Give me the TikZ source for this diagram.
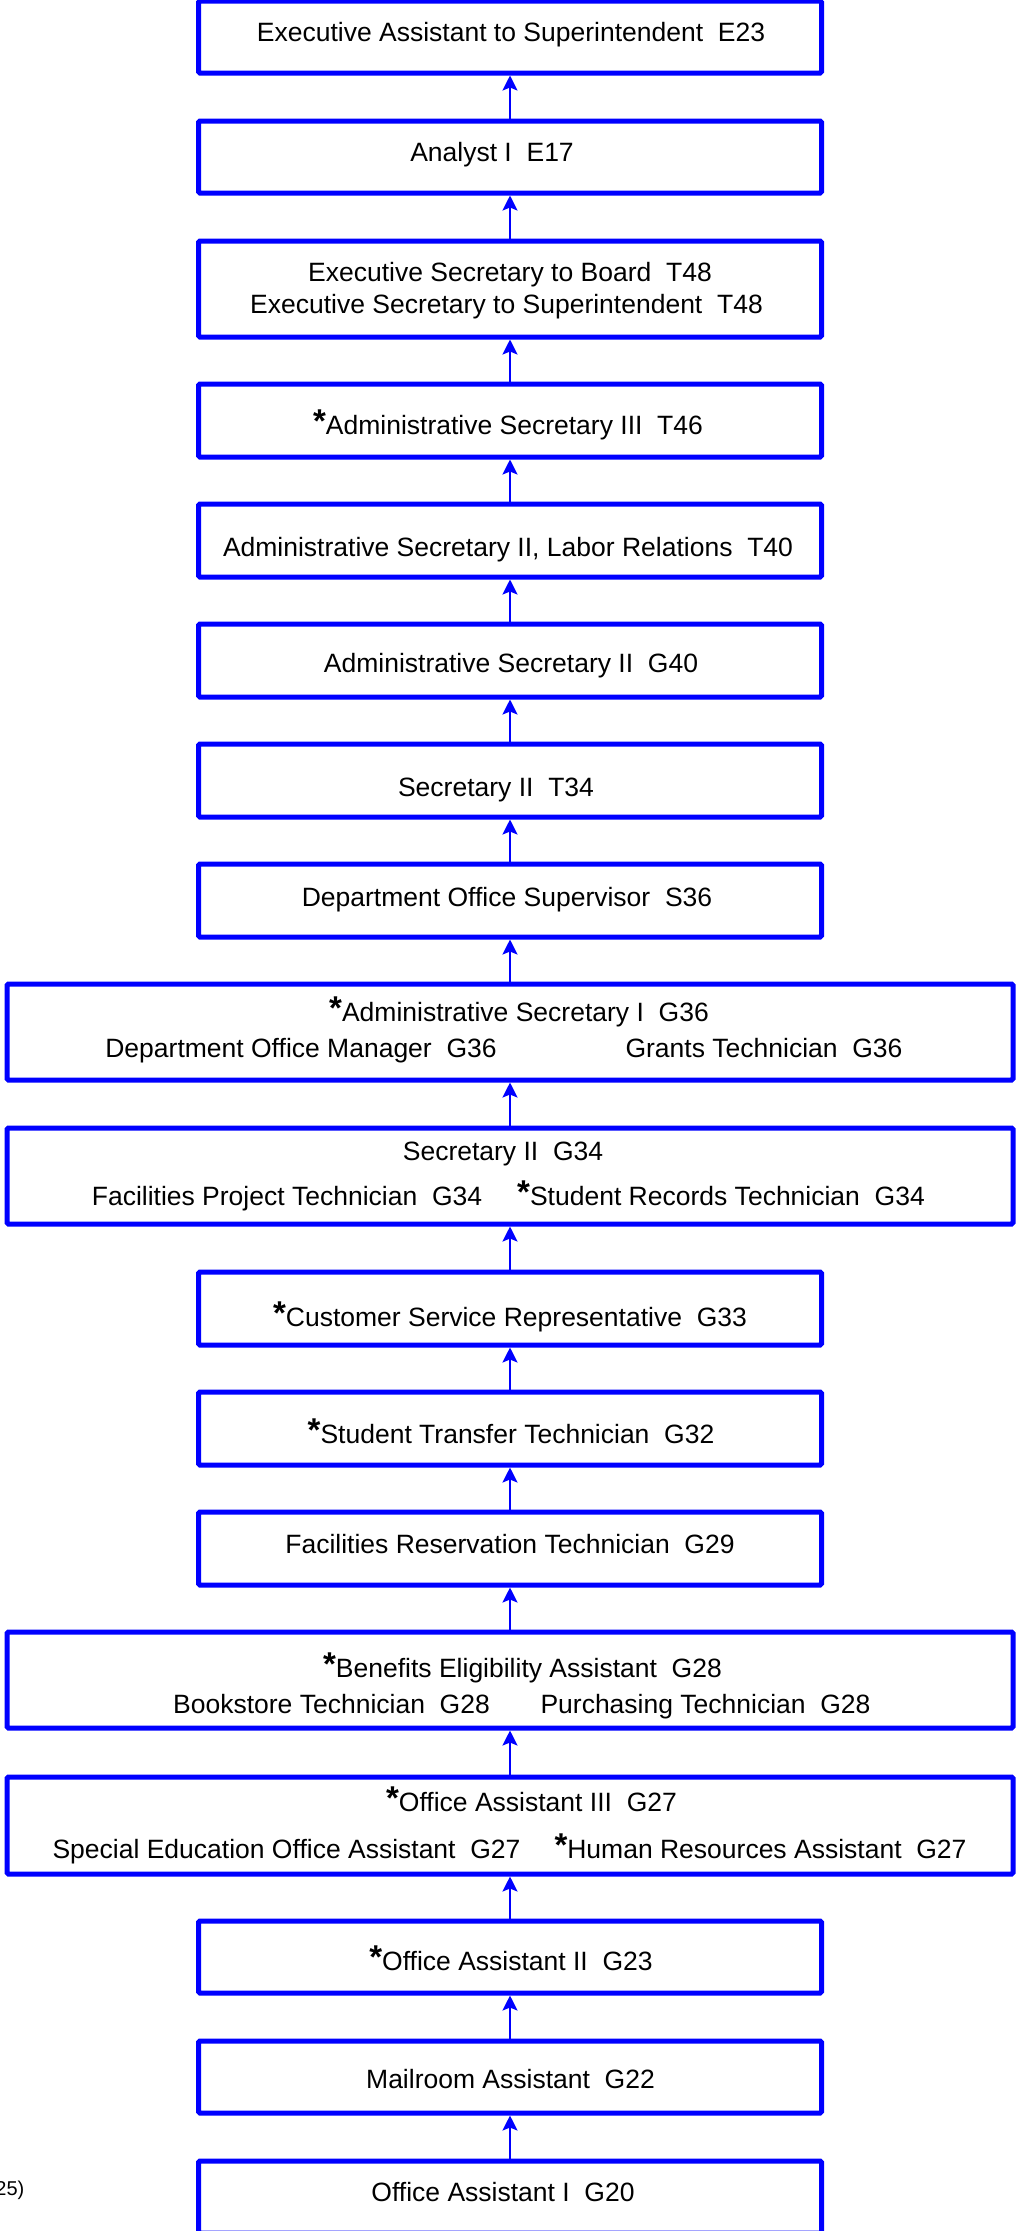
\documentclass[tikz,border=0pt]{standalone}
\usepackage{fontspec}
\setmainfont{Liberation Sans}
\usetikzlibrary{arrows.meta}
\newcommand\asx{{\fontsize{33}{33}\selectfont\bfseries\raisebox{2pt}{*}}}
\begin{document}
\begin{tikzpicture}[x=1pt,y=-1pt,
  nbox/.style={draw=blue, line width=5pt, rounded corners=1.5pt, minimum width=623pt, inner sep=0pt},
  wbox/.style={nbox, minimum width=1006pt},
  txt/.style={anchor=base, inner sep=0pt, font=\fontsize{26.5}{32}\selectfont},
  conn/.style={draw=blue, line width=2pt, -{Stealth[length=15pt,width=15pt,inset=3pt]}}]
\useasboundingbox (0,0) rectangle (1016,2231);
% boxes
\node[nbox, minimum height=72pt] (e23) at (510,37) {};
\node[nbox, minimum height=72pt] (e17) at (510,157) {};
\node[nbox, minimum height=96pt] (t48) at (510,289) {};
\node[nbox, minimum height=73pt] (t46) at (510,420.5) {};
\node[nbox, minimum height=73pt] (t40) at (510,540.5) {};
\node[nbox, minimum height=73pt] (g40) at (510,660.5) {};
\node[nbox, minimum height=73pt] (t34) at (510,780.5) {};
\node[nbox, minimum height=73pt] (s36) at (510,900.5) {};
\node[wbox, minimum height=96pt] (g36) at (510,1032) {};
\node[wbox, minimum height=96pt] (g34) at (510,1176) {};
\node[nbox, minimum height=73pt] (g33) at (510,1308.5) {};
\node[nbox, minimum height=73pt] (g32) at (510,1428.5) {};
\node[nbox, minimum height=73pt] (g29) at (510,1548.5) {};
\node[wbox, minimum height=96pt] (g28) at (510,1680) {};
\node[wbox, minimum height=97pt] (g27) at (510,1825.5) {};
\node[nbox, minimum height=72pt] (g23) at (510,1957) {};
\node[nbox, minimum height=72pt] (g22) at (510,2077) {};
\node[nbox, minimum height=72pt] (g20) at (510,2197) {};
% texts
\node[txt] (x-e23) at (511,41) {Executive Assistant to Superintendent~~E23};
\node[txt] (x-e17) at (492,161) {Analyst I~~E17};
\node[txt] (x-t48a) at (510,281) {Executive Secretary to Board~~T48};
\node[txt] (x-t48b) at (506.5,313) {Executive Secretary to Superintendent~~T48};
\node[txt] (x-t46) at (508,434) {\asx Administrative Secretary III~~T46};
\node[txt] (x-t40) at (508,556) {Administrative Secretary II, Labor Relations~~T40};
\node[txt] (x-g40) at (511,672) {Administrative Secretary II~~G40};
\node[txt] (x-t34) at (496,796) {Secretary II~~T34};
\node[txt] (x-s36) at (507,906) {Department Office Supervisor~~S36};
\node[txt] (x-g36a) at (519,1021) {\asx Administrative Secretary I~~G36};
\node[txt] (x-g36b) at (301,1057) {Department Office Manager~~G36};
\node[txt] (x-g36c) at (764,1057) {Grants Technician~~G36};
\node[txt] (x-g34a) at (503,1160) {Secretary II~~G34};
\node[txt] (x-g34b) at (287,1205) {Facilities Project Technician~~G34};
\node[txt] (x-g34c) at (721,1205) {\asx Student Records Technician~~G34};
\node[txt] (x-g33) at (510,1326) {\asx Customer Service Representative~~G33};
\node[txt] (x-g32) at (511,1443) {\asx Student Transfer Technician~~G32};
\node[txt] (x-g29) at (510,1553) {Facilities Reservation Technician~~G29};
\node[txt] (x-g28a) at (522.5,1677) {\asx Benefits Eligibility Assistant~~G28};
\node[txt] (x-g28b) at (331.5,1713) {Bookstore Technician~~G28};
\node[txt] (x-g28c) at (705.5,1713) {Purchasing Technician~~G28};
\node[txt] (x-g27a) at (531.5,1811) {\asx Office Assistant III~~G27};
\node[txt] (x-g27b) at (286.5,1858) {Special Education Office Assistant~~G27};
\node[txt] (x-g27c) at (760.5,1858) {\asx Human Resources Assistant~~G27};
\node[txt] (x-g23) at (511,1970) {\asx Office Assistant II~~G23};
\node[txt] (x-g22) at (510.5,2088) {Mailroom Assistant~~G22};
\node[txt] (x-g20) at (503,2201) {Office Assistant I~~G20};
\node[anchor=base east, inner sep=0pt, font=\fontsize{20}{24}\selectfont] (note) at (24.5,2195) {25)};
% connectors
\draw[conn] (e17.north) -- (e23.south);
\draw[conn] (t48.north) -- (e17.south);
\draw[conn] (t46.north) -- (t48.south);
\draw[conn] (t40.north) -- (t46.south);
\draw[conn] (g40.north) -- (t40.south);
\draw[conn] (t34.north) -- (g40.south);
\draw[conn] (s36.north) -- (t34.south);
\draw[conn] (g36.north) -- (s36.south);
\draw[conn] (g34.north) -- (g36.south);
\draw[conn] (g33.north) -- (g34.south);
\draw[conn] (g32.north) -- (g33.south);
\draw[conn] (g29.north) -- (g32.south);
\draw[conn] (g28.north) -- (g29.south);
\draw[conn] (g27.north) -- (g28.south);
\draw[conn] (g23.north) -- (g27.south);
\draw[conn] (g22.north) -- (g23.south);
\draw[conn] (g20.north) -- (g22.south);
\end{tikzpicture}
\end{document}
